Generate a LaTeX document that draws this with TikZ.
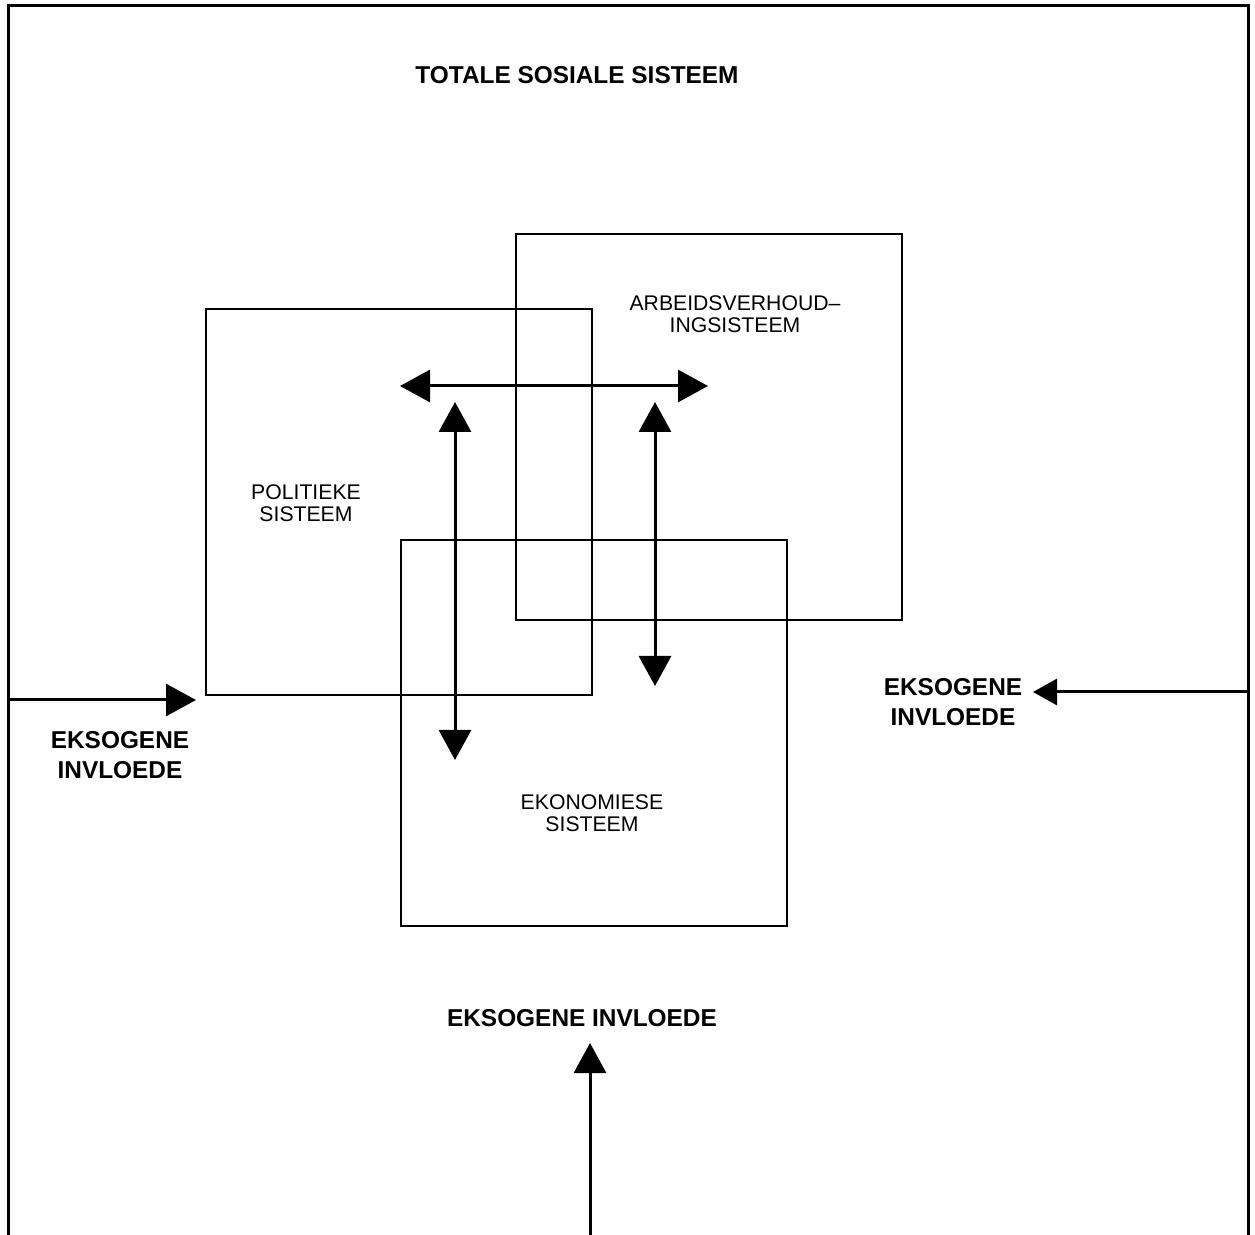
\documentclass[tikz,border=0pt]{standalone}
\usepackage{fontspec}
\setmainfont{Liberation Sans}
\usetikzlibrary{arrows.meta}
\newlength{\du}
\setlength{\du}{0.5pt}
\tikzset{
  sistbox/.style={draw, rectangle, inner sep=0pt, line width=1.1pt, minimum width=386\du, minimum height=386\du, anchor=north west},
  sistlabel/.style={align=center, inner sep=0pt, font=\fontsize{10.6}{11}\selectfont},
  boldlabel/.style={align=center, inner sep=0pt, font=\bfseries\fontsize{12.2}{15}\selectfont},
  bigtip/.tip={Triangle[length=15pt,width=16pt]},
  smalltip/.tip={Triangle[length=12pt,width=13pt]},
  wisselpyl/.style={{bigtip}-{bigtip}, line width=1.5pt},
  invloedpyl/.style={-{bigtip}, line width=1.5pt}
}

\begin{document}
\begin{tikzpicture}
\pgftransformxscale{1.000000}
\pgftransformyscale{-1.000000}
\definecolor{dialinecolor}{rgb}{0.000000, 0.000000, 0.000000}
\pgfsetstrokecolor{dialinecolor}
\pgfsetfillcolor{dialinecolor}
\useasboundingbox (0\du,0\du) rectangle (1255\du,1235\du);
% frame
\pgfsetlinewidth{1.500000pt}
\coordinate (raamLO) at (8.000000\du,1236.000000\du);
\coordinate (raamLB) at (8.000000\du,6.000000\du);
\coordinate (raamRB) at (1248.000000\du,6.000000\du);
\coordinate (raamRO) at (1248.000000\du,1236.000000\du);
\draw (raamLO)--(raamLB)--(raamRB)--(raamRO);
\node[boldlabel] (totaal) at (577.000000\du,75.000000\du){TOTALE SOSIALE SISTEEM};
% subsystems
\node[sistbox] (politiek) at (205.000000\du,308.000000\du){};
\node[sistbox] (arbeid) at (515.000000\du,233.000000\du){};
\node[sistbox] (ekonomie) at (400.000000\du,539.000000\du){};
\node[sistlabel] (politieklabel) at (306.000000\du,503.000000\du){POLITIEKE\\SISTEEM};
\node[sistlabel] (arbeidlabel) at (735.000000\du,314.000000\du){ARBEIDSVERHOUD–\\INGSISTEEM};
\node[sistlabel] (ekonomielabel) at (592.000000\du,813.000000\du){EKONOMIESE\\SISTEEM};
% interaction arrows
\coordinate (hLinks) at (400.000000\du,386.000000\du);
\coordinate (hRegs) at (708.000000\du,386.000000\du);
\coordinate (v1Bo) at (455.000000\du,402.000000\du);
\coordinate (v1Onder) at (455.000000\du,760.000000\du);
\coordinate (v2Bo) at (655.000000\du,402.000000\du);
\coordinate (v2Onder) at (655.000000\du,686.000000\du);
\draw[wisselpyl] (hLinks)--(hRegs);
\draw[wisselpyl] (v1Bo)--(v1Onder);
\draw[wisselpyl] (v2Bo)--(v2Onder);
% exogenous influences
\coordinate (linksBegin) at (8.000000\du,700.000000\du);
\coordinate (linksPunt) at (196.000000\du,700.000000\du);
\coordinate (regsBegin) at (1248.000000\du,692.000000\du);
\coordinate (regsPunt) at (1033.000000\du,692.000000\du);
\coordinate (onderBegin) at (590.000000\du,1236.000000\du);
\coordinate (onderPunt) at (590.000000\du,1043.000000\du);
\draw[invloedpyl] (linksBegin)--(linksPunt);
\draw[invloedpyl,-{smalltip}] (regsBegin)--(regsPunt);
\draw[invloedpyl] (onderBegin)--(onderPunt);
\node[boldlabel] (eksoLinks) at (120.000000\du,755.000000\du){EKSOGENE\\INVLOEDE};
\node[boldlabel] (eksoRegs) at (953.000000\du,702.000000\du){EKSOGENE\\INVLOEDE};
\node[boldlabel] (eksoOnder) at (582.000000\du,1018.000000\du){EKSOGENE INVLOEDE};
\end{tikzpicture}
\end{document}
